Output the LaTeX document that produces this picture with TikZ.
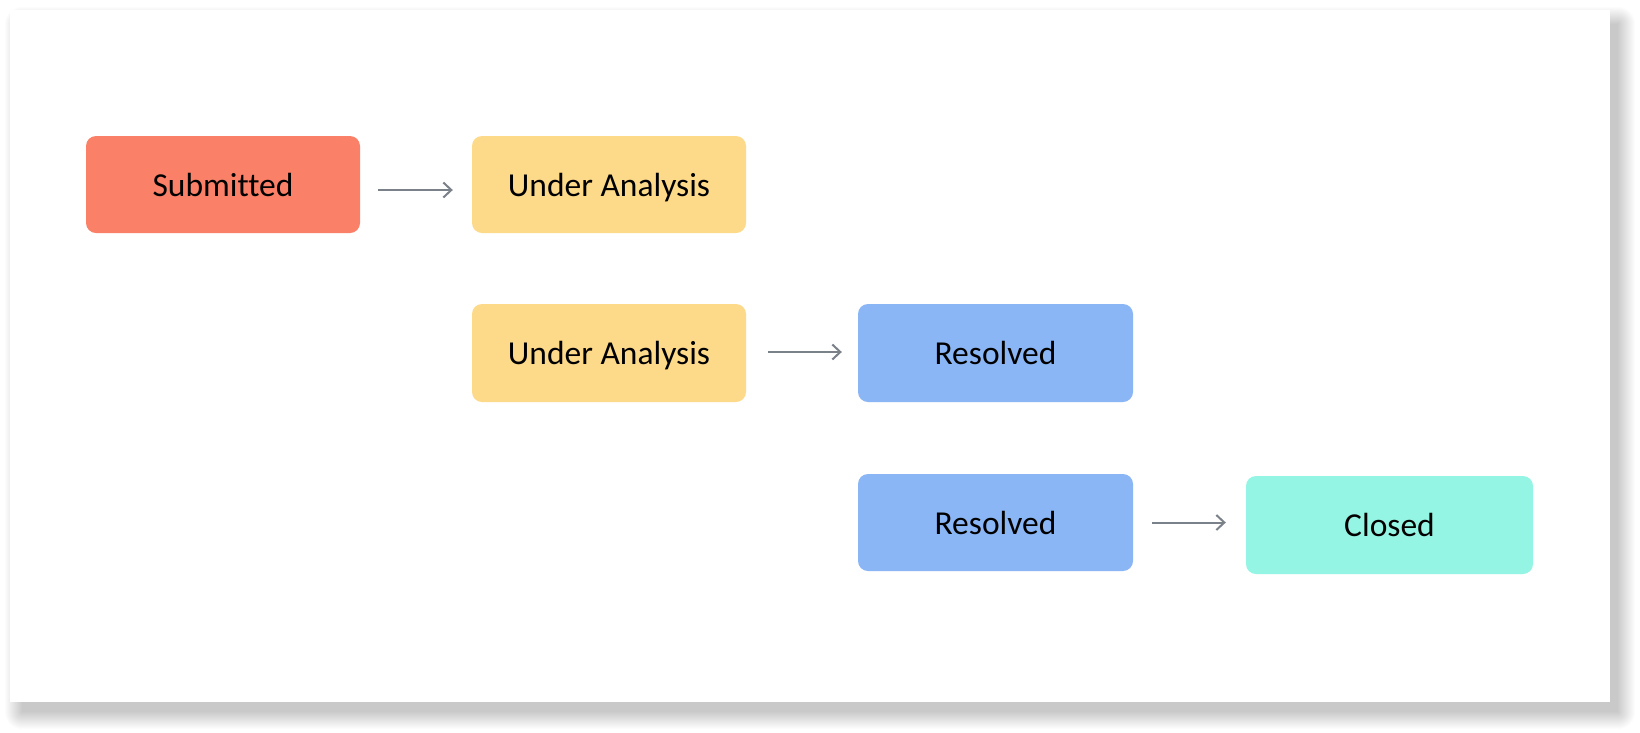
\documentclass[tikz,border=0pt]{standalone}
\usepackage{fontspec}
\setmainfont{Carlito}[Ligatures=NoCommon]
\usetikzlibrary{arrows.meta}
\definecolor{subc}{HTML}{FA8068}
\definecolor{uac}{HTML}{FDD98A}
\definecolor{resc}{HTML}{8AB6F5}
\definecolor{clc}{HTML}{95F5E4}
\definecolor{arrc}{HTML}{7B8189}
\tikzset{
  state/.style={rounded corners=10pt, inner sep=0pt, text=black,
    text height=23pt, text depth=0pt,
    font=\fontsize{33.5}{40}\selectfont},
  arr/.style={draw=arrc, line width=2pt, -{Straight Barb[length=8pt,width=15pt,line width=2pt]}}
}
\begin{document}
\begin{tikzpicture}[x=1pt,y=-1pt]
\useasboundingbox (0,0) rectangle (1640,732);
\fill[white] (0,0) rectangle (1640,732);
% card shadow
\foreach \k in {0,...,17}{
  \fill[black, fill opacity=0.013, rounded corners=\k pt] (22-\k,24-\k) rectangle (1618+\k,712+\k);
}
\fill[white] (10,10) rectangle (1610,702);
% states
\node[state, fill=subc, minimum width=274pt, minimum height=97pt] (sub) at (223,184.5) {Submitted};
\node[state, fill=uac, minimum width=274pt, minimum height=97pt] (ua1) at (609,184.5) {Under Analysis};
\node[state, fill=uac, minimum width=274pt, minimum height=98pt] (ua2) at (609,353) {Under Analysis};
\node[state, fill=resc, minimum width=275pt, minimum height=98pt] (res2) at (995.5,353) {Resolved};
\node[state, fill=resc, minimum width=275pt, minimum height=97pt] (res3) at (995.5,522.5) {Resolved};
\node[state, fill=clc, minimum width=287pt, minimum height=98pt] (cl) at (1389.5,525) {Closed};
% transitions
\draw[arr] ([xshift=18pt,yshift=-5.5pt]sub.east) -- ([xshift=-19pt,yshift=-5.5pt]ua1.west);
\draw[arr] ([xshift=22pt,yshift=1pt]ua2.east) -- ([xshift=-16pt,yshift=1pt]res2.west);
\coordinate (a3) at ([xshift=19pt]res3.east);
\draw[arr] (a3) -- ([xshift=-20pt]cl.west |- a3);
\end{tikzpicture}
\end{document}
